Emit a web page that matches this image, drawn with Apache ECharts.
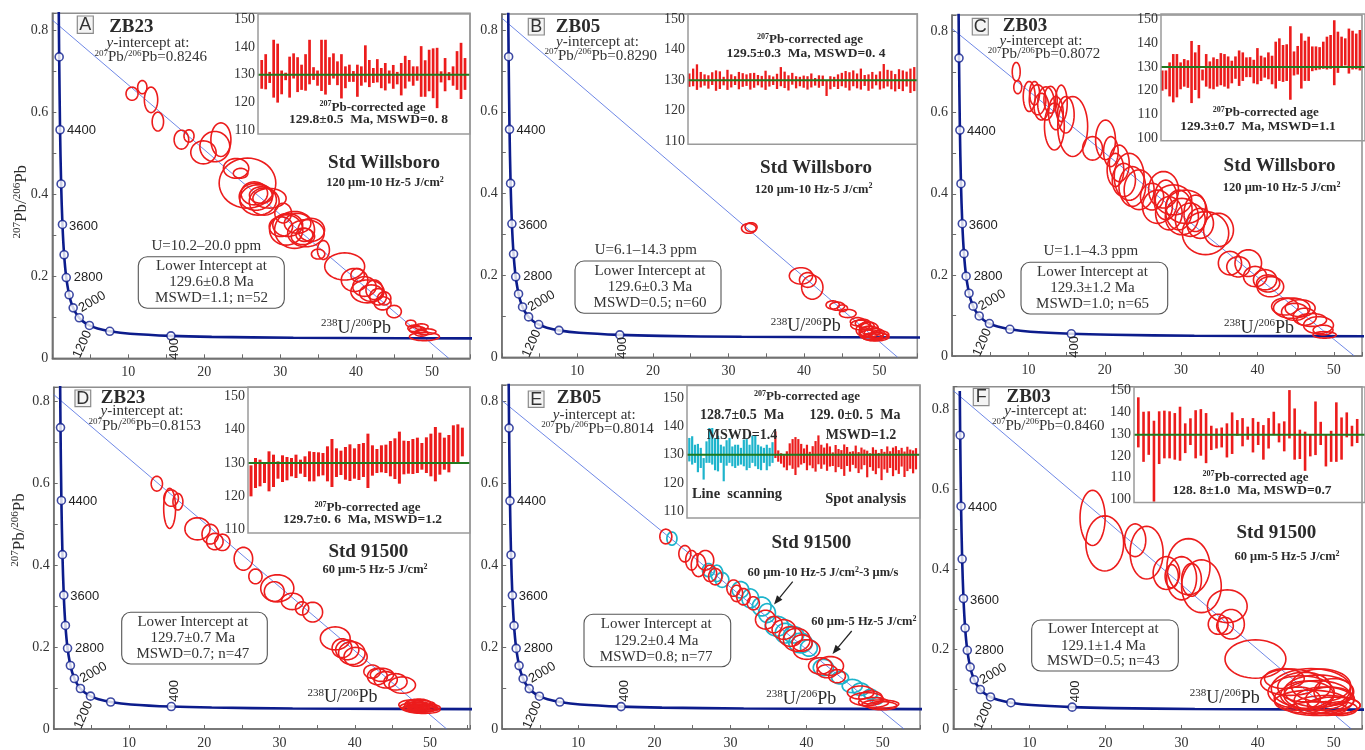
<!DOCTYPE html>
<html><head><meta charset="utf-8">
<script src="https://cdn.jsdelivr.net/npm/echarts@6.0.0/dist/echarts.min.js"></script>
<style>html,body{margin:0;padding:0;background:#fff}#c{width:1365px;height:750px}</style>
</head><body><div id="c"></div>
<script>
// ---------------- DATA ----------------
const concAges = [5000,4800,4400,4000,3600,3200,2800,2400,2200,2000,1800,1600,1400,1200,1000,800,600,400,300,200,100];
const concX = [0.8533,0.9045,1.0215,1.1629,1.3369,1.5556,1.8383,2.2169,2.4586,2.7491,3.1044,3.5498,4.1227,4.8879,5.9591,7.5677,10.252,15.620,20.992,31.735,63.97];
const concY = [0.8454,0.7347,0.5571,0.4250,0.3263,0.2524,0.1968,0.1548,0.1378,0.1230,0.1100,0.0987,0.0888,0.0801,0.0725,0.0658,0.0599,0.0547,0.0523,0.0501,0.0480];
const markerAges = [4800,4400,4000,3600,3200,2800,2400,2000,1600,1200,800,400];
const labeledAges = [4400,3600,2800,2000,1200,400];

const panelLetters = ['A','B','C','D','E','F'];
const sampleNames = ['ZB23','ZB05','ZB03','ZB23','ZB05','ZB03'];
const yIntercepts = [0.8246,0.8290,0.8072,0.8153,0.8014,0.8460];
const xIntercepts = [52.2,52.4,52.7,52.2,52.8,52.3];
const standards = ['Std Willsboro','Std Willsboro','Std Willsboro','Std 91500','Std 91500','Std 91500'];
const conditions = ['120 μm-10 Hz-5 J/cm','120 μm-10 Hz-5 J/cm','120 μm-10 Hz-5 J/cm','60 μm-5 Hz-5 J/cm','','60 μm-5 Hz-5 J/cm'];
const uRanges = ['U=10.2–20.0 ppm','U=6.1–14.3 ppm','U=1.1–4.3 ppm','','',''];
const lowerIntercepts = ['129.6±0.8 Ma','129.6±0.3 Ma','129.3±1.2 Ma','129.7±0.7 Ma','129.2±0.4 Ma','129.1±1.4 Ma'];
const mswdN = ['MSWD=1.1; n=52','MSWD=0.5; n=60','MSWD=1.0; n=65','MSWD=0.7; n=47','MSWD=0.8; n=77','MSWD=0.5; n=43'];
const insetAges = ['129.8±0.5  Ma, MSWD=0. 8','129.5±0.3  Ma, MSWD=0. 4','129.3±0.7  Ma, MSWD=1.1','129.7±0. 6  Ma, MSWD=1.2','','128. 8±1.0  Ma, MSWD=0.7'];
const insetMeans = [130,130,130,130,130,129.7];

// ellipses: [x, y, halfWidthX, halfWidthY]
const ellipsesA = [[10.5,0.645,0.79,0.016],[11.85,0.661,0.61,0.016],[13.0,0.630,0.88,0.031],[13.9,0.577,0.75,0.023],[17.0,0.533,0.96,0.023],[18.0,0.542,0.66,0.015],[19.9,0.502,1.67,0.028],[21.4,0.516,1.97,0.037],[22.2,0.533,1.32,0.041],[24.2,0.463,1.67,0.024],[24.8,0.451,0.96,0.012],[25.7,0.427,3.73,0.061],[26.6,0.402,1.75,0.028],[26.8,0.394,2.19,0.033],[27.1,0.386,2.41,0.037],[27.5,0.398,1.54,0.020],[27.9,0.382,1.97,0.033],[28.6,0.390,2.19,0.024],[30.4,0.354,1.10,0.024],[30.1,0.321,1.54,0.024],[30.8,0.313,2.19,0.037],[31.0,0.325,1.97,0.028],[31.9,0.313,2.63,0.045],[32.3,0.329,1.75,0.024],[33.4,0.305,2.41,0.033],[33.0,0.297,1.54,0.020],[34.1,0.313,1.75,0.028],[33.2,0.301,1.10,0.016],[35.0,0.254,0.88,0.012],[35.7,0.264,0.79,0.023],[38.5,0.224,2.63,0.033],[39.8,0.191,1.75,0.028],[40.2,0.203,0.88,0.016],[41.1,0.175,1.54,0.024],[41.5,0.163,2.19,0.028],[42.0,0.159,1.54,0.020],[42.4,0.167,1.10,0.024],[42.9,0.150,1.10,0.020],[43.5,0.134,1.10,0.016],[43.7,0.146,0.88,0.016],[45.0,0.114,0.96,0.015],[47.2,0.085,0.66,0.008],[47.7,0.073,0.88,0.008],[48.1,0.069,1.10,0.008],[48.6,0.061,0.88,0.007],[49.0,0.053,1.97,0.010],[49.2,0.065,1.32,0.007],[48.6,0.077,0.88,0.007]];
const ellipsesB = [[32.7,0.315,0.97,0.012],[33.0,0.318,0.79,0.011],[39.6,0.199,1.54,0.020],[40.5,0.189,1.10,0.018],[41.1,0.171,1.41,0.029],[43.8,0.128,0.88,0.010],[44.4,0.125,0.97,0.010],[45.1,0.120,0.66,0.008],[45.8,0.107,1.10,0.010],[47.1,0.087,0.97,0.010],[47.5,0.079,1.32,0.012],[48.0,0.067,1.10,0.016],[48.6,0.071,1.23,0.015],[48.9,0.055,1.54,0.012],[49.5,0.050,1.76,0.010],[49.3,0.059,1.32,0.012],[50.0,0.055,1.23,0.010],[48.2,0.059,0.88,0.010],[49.1,0.049,1.32,0.008],[48.4,0.077,0.88,0.010],[47.8,0.083,1.0,0.010],[49.8,0.052,1.2,0.008],[48.7,0.063,1.4,0.013]];
const ellipsesC = [[8.4,0.701,0.52,0.023],[8.6,0.663,0.52,0.016],[10.1,0.640,0.78,0.037],[10.8,0.648,0.65,0.029],[11.2,0.632,1.09,0.037],[11.7,0.615,0.96,0.033],[12.3,0.623,1.09,0.041],[12.9,0.632,0.87,0.033],[13.6,0.599,0.96,0.041],[13.4,0.566,1.30,0.058],[14.3,0.623,0.78,0.045],[14.9,0.595,1.09,0.045],[15.8,0.566,1.96,0.074],[18.4,0.512,1.30,0.029],[20.1,0.533,1.30,0.049],[20.8,0.504,0.96,0.037],[21.4,0.459,1.09,0.041],[21.9,0.475,1.30,0.045],[22.5,0.434,1.52,0.041],[23.2,0.442,1.96,0.058],[23.6,0.418,1.74,0.049],[24.5,0.410,1.96,0.049],[26.2,0.393,1.52,0.033],[26.9,0.368,1.96,0.041],[27.7,0.410,1.96,0.045],[28.0,0.385,1.52,0.049],[28.4,0.352,1.74,0.041],[29.0,0.385,2.39,0.037],[29.7,0.360,1.74,0.049],[30.1,0.344,2.17,0.045],[30.6,0.368,2.61,0.041],[31.2,0.336,1.96,0.041],[31.9,0.352,1.52,0.045],[32.5,0.327,1.74,0.037],[33.2,0.303,3.04,0.053],[34.9,0.311,1.96,0.041],[36.4,0.229,1.52,0.029],[37.5,0.220,1.52,0.025],[38.8,0.229,1.74,0.033],[39.7,0.196,1.52,0.025],[41.0,0.188,1.52,0.025],[41.7,0.171,1.74,0.025],[41.4,0.179,1.52,0.021],[43.6,0.122,1.74,0.021],[44.5,0.118,2.39,0.025],[44.9,0.109,1.74,0.021],[45.6,0.118,1.96,0.021],[46.2,0.097,1.52,0.021],[47.1,0.089,1.96,0.016],[48.0,0.076,1.96,0.021],[48.6,0.064,1.30,0.012],[48.8,0.052,1.52,0.008]];
const ellipsesD = [[13.7,0.598,0.75,0.018],[15.4,0.538,0.79,0.049],[15.6,0.563,0.97,0.020],[16.5,0.554,0.66,0.020],[19.1,0.488,1.67,0.027],[20.8,0.475,1.10,0.024],[21.4,0.457,1.10,0.020],[22.4,0.455,1.01,0.020],[25.2,0.415,1.23,0.028],[26.8,0.372,0.88,0.018],[29.3,0.335,1.32,0.024],[29.7,0.343,2.20,0.033],[31.7,0.311,1.45,0.020],[33.0,0.294,0.88,0.016],[34.4,0.285,1.32,0.024],[37.4,0.221,1.98,0.028],[38.3,0.197,1.32,0.023],[39.0,0.193,1.54,0.024],[39.6,0.185,1.76,0.028],[40.1,0.176,1.54,0.023],[42.3,0.140,1.10,0.016],[43.0,0.128,1.32,0.020],[43.6,0.132,1.54,0.016],[44.1,0.120,1.54,0.020],[45.4,0.115,1.54,0.020],[46.3,0.107,1.76,0.020],[47.6,0.059,1.76,0.012],[48.0,0.054,1.98,0.010],[48.5,0.050,2.20,0.010],[48.9,0.059,1.76,0.010],[49.3,0.050,1.76,0.008],[48.5,0.063,1.54,0.010],[49.8,0.052,1.54,0.008],[47.8,0.050,1.32,0.007],[49.1,0.046,2.20,0.008],[48.2,0.057,1.6,0.009],[49.0,0.055,1.9,0.009],[47.9,0.062,1.2,0.008]];
const ellipsesERed = [[21.5,0.470,0.79,0.018],[24.0,0.428,0.79,0.020],[24.9,0.412,0.79,0.024],[25.8,0.400,0.96,0.028],[26.7,0.412,1.10,0.024],[27.3,0.380,0.88,0.020],[28.0,0.372,0.88,0.020],[30.4,0.344,0.88,0.020],[30.8,0.331,0.79,0.020],[31.7,0.323,0.88,0.020],[33.0,0.307,0.79,0.016],[34.6,0.267,1.32,0.023],[35.7,0.255,1.10,0.020],[37.0,0.243,1.54,0.024],[37.9,0.226,1.54,0.024],[38.7,0.218,1.75,0.028],[39.4,0.210,1.32,0.020],[40.0,0.194,1.75,0.024],[41.8,0.154,1.54,0.020],[42.7,0.141,1.32,0.016],[43.1,0.154,1.75,0.023],[44.0,0.129,1.10,0.016],[47.1,0.089,1.75,0.016],[47.9,0.073,2.19,0.016],[48.8,0.065,1.97,0.012],[49.7,0.061,2.41,0.010],[48.4,0.077,1.54,0.016],[49.9,0.057,1.97,0.010]];
const ellipsesECyan = [[22.3,0.465,0.66,0.016],[27.1,0.388,0.79,0.016],[28.2,0.380,0.79,0.020],[28.9,0.364,0.88,0.018],[31.3,0.340,1.10,0.020],[32.6,0.319,1.10,0.023],[34.1,0.299,1.23,0.023],[34.8,0.283,1.10,0.023],[36.1,0.251,1.54,0.024],[37.2,0.234,1.32,0.024],[38.3,0.230,1.32,0.020],[39.2,0.210,1.54,0.024],[40.3,0.198,1.10,0.020],[42.2,0.150,1.32,0.020],[44.4,0.125,1.10,0.015],[46.0,0.105,1.32,0.016],[47.1,0.097,1.10,0.015],[48.4,0.085,0.88,0.012],[49.3,0.069,0.66,0.008]];
const ellipsesF = [[18.3,0.528,1.65,0.069],[19.9,0.464,2.48,0.069],[23.9,0.472,1.39,0.041],[25.4,0.441,2.17,0.066],[30.9,0.406,2.83,0.070],[28.0,0.390,1.74,0.041],[28.7,0.382,0.87,0.029],[30.0,0.377,1.96,0.054],[31.3,0.373,1.30,0.041],[32.6,0.357,2.61,0.066],[36.0,0.307,2.61,0.041],[34.8,0.262,1.30,0.025],[36.5,0.262,1.74,0.037],[35.7,0.258,1.09,0.021],[39.7,0.175,4.00,0.048],[44.3,0.117,3.91,0.033],[47.0,0.101,5.22,0.050],[45.7,0.092,4.35,0.041],[47.8,0.084,4.35,0.037],[48.7,0.072,3.91,0.033],[47.0,0.068,4.78,0.029],[49.1,0.059,4.35,0.025],[46.1,0.105,3.48,0.037],[50.0,0.093,2.61,0.033],[47.8,0.051,3.91,0.017],[50.0,0.059,3.48,0.021],[50.9,0.051,2.17,0.017],[45.2,0.076,3.04,0.029],[43.5,0.126,2.61,0.025],[48.3,0.109,3.91,0.041],[46.5,0.085,3.5,0.035],[48.0,0.095,4.5,0.040],[49.5,0.075,3.2,0.030]];

// inset age bars: [low, high] in Ma
const insetA = [[124.9,135.3],[124.7,137.4],[127.0,131.0],[121.7,142.6],[119.9,141.2],[122.9,131.5],[128.0,130.7],[121.7,136.5],[128.6,137.7],[123.7,136.3],[124.5,133.6],[124.2,137.4],[126.5,142.6],[128.1,132.7],[126.0,131.5],[124.1,142.6],[122.8,142.6],[126.3,136.3],[128.6,137.7],[126.2,134.8],[121.4,137.4],[125.1,133.0],[127.4,133.6],[127.4,131.3],[122.0,133.6],[126.0,133.0],[127.2,140.6],[125.5,135.3],[127.0,132.4],[127.2,135.6],[125.1,132.4],[124.3,134.2],[126.8,131.5],[124.9,133.5],[126.5,131.0],[122.5,134.2],[125.0,136.8],[127.5,135.3],[126.0,133.0],[127.8,133.0],[122.0,140.3],[122.0,135.2],[124.0,139.0],[121.5,139.5],[117.9,139.7],[127.2,131.2],[124.0,136.0],[128.0,130.9],[126.0,133.0],[124.5,138.5],[121.2,141.5],[124.5,136.0]];
const insetB = [[127.8,132.2],[128.0,133.8],[126.8,135.2],[127.6,132.7],[128.2,131.9],[127.2,131.6],[128.4,132.6],[126.5,133.2],[127.1,132.9],[128.3,131.1],[126.8,133.4],[127.6,131.9],[128.4,131.3],[127.0,132.7],[127.8,132.3],[128.1,131.9],[126.9,132.3],[127.5,132.4],[128.3,131.7],[127.6,131.4],[126.8,133.1],[127.9,131.6],[128.4,131.2],[127.1,132.1],[128.0,134.3],[127.4,132.8],[126.6,131.6],[128.5,132.4],[127.3,131.3],[128.0,131.1],[127.5,131.5],[126.9,131.3],[127.6,132.2],[128.2,130.7],[127.5,131.6],[128.1,131.5],[124.8,129.9],[127.0,131.3],[127.8,131.1],[127.1,131.9],[128.0,132.4],[127.5,133.0],[126.6,132.6],[128.0,133.2],[127.3,132.2],[126.9,133.8],[128.1,131.7],[126.5,131.9],[127.2,132.7],[128.3,131.8],[126.9,132.9],[127.3,135.3],[127.9,133.4],[127.0,133.1],[126.3,132.0],[127.1,133.6],[126.4,133.2],[127.9,132.8],[125.8,133.8],[126.4,134.3]];
const insetC = [[120,128.5],[120.6,128.5],[117.6,131.9],[115.1,135.4],[117.2,135.4],[120.6,131.9],[121.7,133.3],[121.2,132.8],[114.8,140.9],[120.3,136.1],[116.8,139.2],[124.3,128.9],[121.7,135.4],[120.9,132.3],[120.6,134.0],[121.7,133.3],[122.3,135.8],[121.7,135.4],[120.9,134.4],[123.1,132.6],[125.0,134.4],[122.0,136.9],[124.1,136.1],[125.7,134.0],[125.7,134.1],[123.1,133.0],[122.7,137.9],[124.1,134.7],[125.5,134.0],[124.8,136.1],[122.7,134.7],[120.9,140.6],[124.1,142.0],[123.7,139.2],[124.1,139.5],[116.2,147.1],[126.4,136.5],[126.8,138.8],[120.9,144.1],[124.1,141.0],[124.1,142.7],[128.2,138.6],[128.6,138.6],[128.9,138.3],[129.2,140.6],[128.9,142.7],[129.2,143.4],[122.3,149.6],[127.5,144.8],[130.3,142.7],[130.6,142.0],[127.2,146.1],[128.9,145.2],[129.0,144.0],[128.5,145.5]];
const insetD = [[120,129.3],[122.5,131.5],[123,131],[124,130],[121.5,133.5],[122.8,132.5],[125.3,130.5],[124.3,132.3],[124.8,131.8],[126,131.5],[125.5,132.5],[126.8,131],[125.8,132],[124.5,133.5],[124.5,133.3],[126,133.2],[126.3,133],[124.5,135],[122.8,137.2],[125.8,134.4],[126.4,133.7],[125,134.8],[124.6,135.6],[125.3,134.4],[124.9,135.7],[125.8,136],[122.5,138.8],[126.2,135.3],[127,134.2],[127.2,135.3],[127,135.5],[126,136.6],[125.2,137.4],[123.8,139.4],[126.6,136.7],[126.8,136.6],[126.7,137.2],[127,137.6],[128,136],[127,137.7],[126,138.8],[124.5,140.8],[126.5,139.1],[128,137.6],[127.2,138.4],[129.8,141.3],[130,141.6],[132,140.6]];
const insetELine = [[127.6,135.9],[126.5,136.5],[127.1,133.5],[123.8,133.8],[125.3,132.4],[121.2,128.8],[127.1,134.7],[127.1,139.4],[126.5,139.4],[124.5,135.9],[124.1,136.7],[127.1,133.5],[120.6,132.9],[126.1,135.1],[127.1,135.9],[125.9,132.9],[125.3,133.5],[126.1,133.5],[126.5,132.4],[125.9,135.3],[124.5,135.5],[125.3,133.5],[127.1,136.7],[125.9,136.7],[124.9,133.5],[124.5,132.9],[127.1,132.4],[124.5,133.5],[125.9,132.4],[127.1,134.4]];
const insetESpot = [[128.8,138.2],[127.5,131.5],[126.8,130.5],[125.5,129.8],[124.5,131.2],[126.2,134.0],[125.0,135.5],[122.8,136.2],[125.5,135.5],[126.5,133.8],[127.0,132.2],[124.5,133.5],[126.2,131.0],[125.2,133.0],[124.0,134.8],[126.6,136.8],[125.0,133.5],[126.5,132.5],[124.3,134.0],[125.8,132.9],[126.0,130.8],[123.8,133.4],[125.6,132.0],[124.9,131.6],[122.5,133.6],[126.0,132.7],[124.0,131.0],[126.4,131.2],[125.2,133.2],[123.5,130.9],[124.8,132.5],[126.3,131.8],[122.0,131.4],[125.6,130.5],[124.3,132.6],[123.1,131.7],[125.2,130.6],[121.0,132.0],[124.8,131.0],[123.6,132.9],[125.3,131.2],[122.4,132.5],[124.5,133.0],[123.2,131.6],[125.8,132.4],[122.1,131.1],[124.2,132.8],[125.0,131.8],[123.4,131.5],[124.8,132.3]];
const insetF = [[123.9,146.8],[117.3,140.2],[120.5,140.4],[99.1,136.1],[116.3,140.4],[118.9,140.7],[118.9,140.4],[118.3,139.6],[117.8,142.5],[121.3,134.9],[125.0,137.2],[118.9,140.9],[120.1,141.4],[116.7,139.6],[122.7,133.8],[123.4,132.6],[123.9,133.0],[119.3,134.9],[120.9,139.9],[129.2,136.4],[124.4,137.3],[127.4,133.4],[121.6,137.3],[125.0,135.6],[118.3,134.1],[123.4,137.3],[129.5,140.2],[126.2,134.9],[122.1,135.8],[128.0,150.1],[118.3,141.7],[118.6,132.0],[113.2,131.1],[119.8,130.0],[120.4,144.9],[125.0,135.6],[115.2,130.0],[117.3,131.5],[117.3,144.5],[118.3,137.6],[128.5,139.9],[124.4,133.8],[125.9,136.9]];

// ---------------- LAYOUT / STYLE ----------------
const SERIF = '"Liberation Serif","DejaVu Serif",serif';
const SANS = '"Liberation Sans","DejaVu Sans",sans-serif';
const NAVY = '#0c1c8c', RED = '#ec1c1c', CYAN = '#1db4cc', GREEN = '#1f7a1f', TXT = '#2b2b2b';

const L = [
 {grid:[52.3,13.3,470,358.3], xmax:55, ymax:0.841, inset:[258,19.3,212,110.7], insetBox:[258,14,212,120], insetX:[-0.93,52.25], insetY:[110,150], barW:2.7,
  letterBox:[77.3,16,16,17.3], title:[131.3,27], yi1:[148,42.7], yi2:[150.8,57.3], ins1:[372.5,107.7], ins2:[368.5,120],
  std:[384,162.7], cond:[385,182.7], u:[206.3,245.7], lbox:[138.3,256.7,146,51.6], lx:211.5, ly:[265.7,282.3,297.7], ulab:[356,328.3], c400dy:13, ytitle:[21.7,201.7]},
 {grid:[501.8,14,917.3,357.3], xmax:55, ymax:0.839, inset:[688,19.3,229.3,121.7], insetBox:[688,14,229.3,130.3], insetX:[-0.35,59.8], insetY:[110,150], barW:2.3,
  letterBox:[528.3,18.3,16,16.7], title:[578,26.7], yi1:[597.5,41.7], yi2:[600.8,56], ins1:[810,40], ins2:[806,53.3],
  std:[816,168.3], cond:[813.7,189.3], u:[645.8,250], lbox:[575,261,146,52.3], lx:650, ly:[270.7,287.3,303.3], ulab:[805.8,326.7], c400dy:13},
 {grid:[952.1,15,1365,356], xmax:53.7, ymax:0.841, inset:[1161,19.3,204,119], insetBox:[1161,14,204,126.7], insetX:[-0.35,55.4], insetY:[100,150], barW:2.6,
  letterBox:[972.3,18.3,16,16.7], title:[1025,25.7], yi1:[1041,40.7], yi2:[1044,54.3], ins1:[1265.8,113], ins2:[1258,126.7],
  std:[1279.5,166], cond:[1281.7,187.7], u:[1090.8,250.7], lbox:[1021,262.3,146.7,51.7], lx:1092.5, ly:[271.7,288.3,304], ulab:[1259,328.3], c400dy:13},
 {grid:[53.7,387.3,470,729], xmax:55.3, ymax:0.833, inset:[248,396.3,222,133.4], insetBox:[248,387,222,146], insetX:[-0.67,48.7], insetY:[110,150], barW:3.0,
  letterBox:[75,390,15.7,16.7], title:[123,397.7], yi1:[142,411], yi2:[144.8,425.7], ins1:[367.5,508], ins2:[362.5,519.7],
  std:[368.3,551.7], cond:[375,570], u:null, lbox:[121.7,612.3,145.6,51.7], lx:192.8, ly:[621.7,638.3,654], ulab:[342.5,697.7], c400dy:-15.7, ytitle:[20,530]},
 {grid:[502.2,385,920,731.7], xmax:54.9, ymax:0.840, inset:[687,398,233,113.3], insetBox:[687,385.5,233,132.5], insetX:[-0.8,80.4], insetY:[110,150], barW:2.2,
  letterBox:[528.3,391,15.7,16.3], title:[579,398.3], yi1:[594.2,415], yi2:[597.5,429], ins1:[807,397], ins2:null,
  std:[811.3,543.3], cond:null, u:null, lbox:[584,614.3,146.7,52.4], lx:656.2, ly:[624,640.7,656.7], ulab:[801.3,699.3], c400dy:-15.7},
 {grid:[953.3,386.7,1365,731.7], xmax:53.7, ymax:0.856, inset:[1134,390.3,231,109.4], insetBox:[1134,387,231,115.5], insetX:[-0.83,43.5], insetY:[100,150], barW:2.6,
  letterBox:[973.3,388.3,15.7,17.4], title:[1028.7,396.7], yi1:[1045.8,411], yi2:[1048.3,425.7], ins1:[1255.5,477.3], ins2:[1252,490.3],
  std:[1276.3,533.3], cond:[1287,556.7], u:null, lbox:[1031.7,620,146.6,51], lx:1103.3, ly:[629,645.7,661], ulab:[1224.7,698.3], c400dy:-15.7}
];
const labelOffsets = {4400:[7,1,'left',0], 3600:[6.5,1.5,'left',0], 2800:[7.5,0,'left',0], 2000:[19,-6,'center',30], 1200:[-7,19,'center',66], 400:[3,13,'center',90]};

const mainEllipses = [ellipsesA, ellipsesB, ellipsesC, ellipsesD, ellipsesERed, ellipsesF];
const insetBars = [insetA, insetB, insetC, insetD, null, insetF];

// ---------------- BUILD ----------------
function ellipseItem(color, lw) {
  return function (params, api) {
    const cx = api.value(0), cy = api.value(1), rx = api.value(2), ry = api.value(3);
    const pts = [];
    for (let k = 0; k < 48; k++) {
      const a = k / 48 * Math.PI * 2;
      pts.push(api.coord([cx + rx * Math.cos(a), cy + ry * Math.sin(a)]));
    }
    return {type:'polygon', shape:{points:pts}, style:{fill:'none', stroke:color, lineWidth:lw}};
  };
}
function barItem(color, lw) {
  return function (params, api) {
    const p1 = api.coord([api.value(0), api.value(1)]);
    const p2 = api.coord([api.value(0), api.value(2)]);
    return {type:'line', shape:{x1:p1[0], y1:p1[1], x2:p2[0], y2:p2[1]}, style:{stroke:color, lineWidth:lw}};
  };
}
const concPts = concX.map((x, i) => [x, concY[i]]);
const markerPts = markerAges.map(a => { const k = concAges.indexOf(a); return [concX[k], concY[k]]; });

const grids = [], xAxes = [], yAxes = [], series = [];
L.forEach((p, i) => {
  grids.push({left:p.grid[0], top:p.grid[1], width:p.grid[2]-p.grid[0], height:p.grid[3]-p.grid[1], show:true, borderColor:'#8e8e8e', borderWidth:1.5});
  xAxes.push({type:'value', gridIndex:i, min:0, max:p.xmax, interval:5,
    axisLine:{show:true, onZero:false, lineStyle:{color:'#6a6a6a', width:1.5}},
    axisTick:{show:true, inside:true, length:4, lineStyle:{color:'#6a6a6a'}},
    axisLabel:{formatter:v => (v > 1 && v < 51 && Math.abs(v/10 - Math.round(v/10)) < 1e-6) ? String(Math.round(v)) : '', fontFamily:SERIF, fontSize:14, color:'#333', margin:7},
    splitLine:{show:false}});
  yAxes.push({type:'value', gridIndex:i, min:0, max:p.ymax, interval:0.1,
    axisLine:{show:true, onZero:false, lineStyle:{color:'#6a6a6a', width:1.5}},
    axisTick:{show:true, inside:true, length:4, lineStyle:{color:'#6a6a6a'}},
    axisLabel:{formatter:v => { const k = v*5; if (Math.abs(k - Math.round(k)) > 1e-6) return ''; return Math.round(k) === 0 ? '0' : (Math.round(k)/5).toFixed(1); }, fontFamily:SERIF, fontSize:14, color:'#333', margin:4},
    splitLine:{show:false}});
  series.push({type:'line', xAxisIndex:i, yAxisIndex:i, data:[[0, yIntercepts[i]], [xIntercepts[i], 0]], symbol:'none', silent:true, lineStyle:{color:'#4a6ae0', width:0.8}, z:1});
  series.push({type:'line', xAxisIndex:i, yAxisIndex:i, data:concPts, smooth:0.3, symbol:'none', silent:true, clip:true, lineStyle:{color:NAVY, width:2.6}, z:2});
  if (i === 4) {
    series.push({type:'custom', xAxisIndex:i, yAxisIndex:i, data:ellipsesECyan, renderItem:ellipseItem(CYAN, 1.7), clip:true, silent:true, z:3, encode:{x:0, y:1}});
  }
  series.push({type:'custom', xAxisIndex:i, yAxisIndex:i, data:mainEllipses[i], renderItem:ellipseItem(RED, 1.6), clip:true, silent:true, z:4, encode:{x:0, y:1}});
  series.push({type:'scatter', xAxisIndex:i, yAxisIndex:i, data:markerPts, symbol:'circle', symbolSize:8, silent:true, itemStyle:{color:'#fff', borderColor:NAVY, borderWidth:1.6}, z:5});
});
L.forEach((p, i) => {
  const gi = 6 + i;
  grids.push({left:p.inset[0], top:p.inset[1], width:p.inset[2], height:p.inset[3], show:false});
  xAxes.push({type:'value', gridIndex:gi, min:p.insetX[0], max:p.insetX[1], show:false, splitLine:{show:false}});
  yAxes.push({type:'value', gridIndex:gi, min:p.insetY[0], max:p.insetY[1], interval:10,
    axisLine:{show:false}, axisTick:{show:false}, splitLine:{show:false},
    axisLabel:{fontFamily:SERIF, fontSize:14, color:'#333', margin:3}});
  if (i === 4) {
    series.push({type:'custom', xAxisIndex:gi, yAxisIndex:gi, data:insetELine.map((d, k) => [k, d[0], d[1]]), renderItem:barItem(CYAN, p.barW), clip:false, silent:true, z:6, encode:{x:0, y:[1,2]}});
    const off = insetELine.length;
    series.push({type:'custom', xAxisIndex:gi, yAxisIndex:gi, data:insetESpot.map((d, k) => [k + off, d[0], d[1]]), renderItem:barItem(RED, p.barW), clip:false, silent:true, z:6, encode:{x:0, y:[1,2]}});
  } else {
    series.push({type:'custom', xAxisIndex:gi, yAxisIndex:gi, data:insetBars[i].map((d, k) => [k, d[0], d[1]]), renderItem:barItem(RED, p.barW), clip:false, silent:true, z:6, encode:{x:0, y:[1,2]}});
  }
  series.push({type:'line', xAxisIndex:gi, yAxisIndex:gi, data:[[p.insetX[0], insetMeans[i]], [p.insetX[1], insetMeans[i]]], symbol:'none', silent:true, lineStyle:{color:GREEN, width:2}, z:7});
});

const chart = echarts.init(document.getElementById('c'), null, {renderer:'canvas', width:1365, height:750});
chart.setOption({animation:false, backgroundColor:'#fff', grid:grids, xAxis:xAxes, yAxis:yAxes, series:series});

// ---------------- TEXTS ----------------
function R(size, bold, color) {
  const fw = bold ? 'bold' : 'normal';
  const c = color || TXT;
  return {
    s:{fontSize:Math.round(size*0.62), fontFamily:SERIF, fontWeight:fw, verticalAlign:'top', lineHeight:Math.round(size*0.62), fill:c},
    n:{fontSize:size, fontFamily:SERIF, fontWeight:fw, lineHeight:Math.round(size*1.15), fill:c},
    i:{fontSize:size, fontFamily:SERIF, fontWeight:fw, fontStyle:'italic', lineHeight:Math.round(size*1.15), fill:c}
  };
}
function T(x, y, text, o) {
  o = o || {};
  const st = {text:text, fill:o.color || TXT, fontSize:o.size || 15, fontFamily:o.family || SERIF, fontWeight:o.bold ? 'bold' : 'normal',
    align:o.align || 'center', textAlign:o.align || 'center', verticalAlign:'middle', textVerticalAlign:'middle'};
  if (o.rich) st.rich = o.rich;
  return {type:'text', x:x, y:y, rotation:o.rot || 0, z:100, silent:true, style:st};
}
function arrow(x1, y1, x2, y2) {
  const dx = x2 - x1, dy = y2 - y1, len = Math.sqrt(dx*dx + dy*dy), ux = dx/len, uy = dy/len;
  const bx = x2 - 9*ux, by = y2 - 9*uy, nx = -uy, ny = ux;
  return [
    {type:'line', z:100, silent:true, shape:{x1:x1, y1:y1, x2:bx, y2:by}, style:{stroke:'#222', lineWidth:1.2}},
    {type:'polygon', z:100, silent:true, shape:{points:[[x2,y2],[bx+3.5*nx, by+3.5*ny],[bx-3.5*nx, by-3.5*ny]]}, style:{fill:'#222'}}
  ];
}
const g = [];
L.forEach((p, i) => {
  const lb = p.letterBox;
  g.push({type:'rect', z:100, silent:true, shape:{x:lb[0], y:lb[1], width:lb[2], height:lb[3]}, style:{fill:'#f4f4f4', stroke:'#8a8a8a', lineWidth:1.2}});
  g.push(T(lb[0] + lb[2]/2, lb[1] + lb[3]/2 + 0.5, panelLetters[i], {family:SANS, size:18, color:'#333'}));
  g.push(T(p.title[0], p.title[1], sampleNames[i], {size:19, bold:true}));
  g.push(T(p.yi1[0], p.yi1[1], '{i|y}{n|-intercept at:}', {rich:R(15, false, '#333')}));
  g.push(T(p.yi2[0], p.yi2[1], '{s|207}{n|Pb/}{s|206}{n|Pb=' + yIntercepts[i].toFixed(4) + '}', {rich:R(15, false, '#333')}));
  const ib = p.insetBox;
  g.push({type:'rect', z:90, silent:true, shape:{x:ib[0], y:ib[1], width:ib[2], height:ib[3]}, style:{fill:'none', stroke:'#9a9a9a', lineWidth:1.5}});
  g.push(T(p.ins1[0], p.ins1[1], '{s|207}{n|Pb-corrected age}', {rich:R(13, true)}));
  if (p.ins2) g.push(T(p.ins2[0], p.ins2[1], insetAges[i], {size:13.5, bold:true}));
  g.push(T(p.std[0], p.std[1], standards[i], {size:19, bold:true}));
  if (p.cond) g.push(T(p.cond[0], p.cond[1], '{n|' + conditions[i] + '}{s|2}', {rich:R(12.5, true)}));
  if (p.u) g.push(T(p.u[0], p.u[1], uRanges[i], {size:15, color:'#333'}));
  const b = p.lbox;
  g.push({type:'rect', z:100, silent:true, shape:{x:b[0], y:b[1], width:b[2], height:b[3], r:9}, style:{fill:'none', stroke:'#555', lineWidth:1.1}});
  g.push(T(p.lx, p.ly[0], 'Lower Intercept at', {size:15, color:'#333'}));
  g.push(T(p.lx, p.ly[1], lowerIntercepts[i], {size:15, color:'#333'}));
  g.push(T(p.lx, p.ly[2], mswdN[i], {size:15, color:'#333'}));
  g.push(T(p.ulab[0], p.ulab[1], '{s|238}{n|U/}{s|206}{n|Pb}', {rich:R(18, false)}));
  if (p.ytitle) g.push(T(p.ytitle[0], p.ytitle[1], '{s|207}{n|Pb/}{s|206}{n|Pb}', {rich:R(17, false), rot:Math.PI/2}));
  labeledAges.forEach(age => {
    const k = concAges.indexOf(age);
    const px = chart.convertToPixel({gridIndex:i}, [concX[k], concY[k]]);
    const o = labelOffsets[age];
    const dy = age === 400 ? p.c400dy : o[1];
    g.push(T(px[0] + o[0], px[1] + dy, String(age), {family:SANS, size:13, align:o[2], rot:o[3]*Math.PI/180, color:'#222'}));
  });
});
// panel E extra annotations
g.push(T(742, 415.3, '128.7±0.5  Ma', {size:14, bold:true}));
g.push(T(742, 435.7, 'MSWD=1.4', {size:14, bold:true}));
g.push(T(855, 415.3, '129. 0±0. 5  Ma', {size:14, bold:true}));
g.push(T(861, 435.7, 'MSWD=1.2', {size:14, bold:true}));
g.push(T(737, 494, 'Line  scanning', {size:14.5, bold:true}));
g.push(T(865.7, 499, 'Spot analysis', {size:14.5, bold:true}));
g.push(T(823, 572.7, '{n|60 μm-10 Hz-5 J/cm}{s|2}{n|-3 μm/s}', {rich:R(12.5, true)}));
g.push(T(863.8, 621.7, '{n|60 μm-5 Hz-5 J/cm}{s|2}', {rich:R(12.5, true)}));
arrow(792.7, 581.7, 774, 604.5).forEach(e => g.push(e));
arrow(851.7, 631, 832.5, 654).forEach(e => g.push(e));

chart.setOption({graphic:{elements:g}});
</script>
</body></html>
